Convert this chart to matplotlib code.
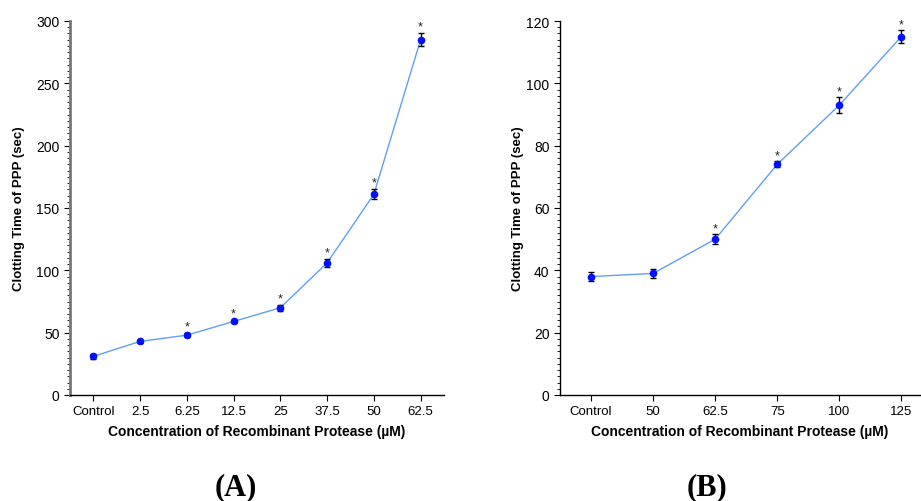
import matplotlib
matplotlib.use("Agg")
import matplotlib.pyplot as plt
from matplotlib.ticker import MultipleLocator

plt.rcParams['font.family'] = ['Liberation Sans', 'DejaVu Sans']

cats_a = ["Control", "2.5", "6.25", "12.5", "25", "37.5", "50", "62.5"]
vals_a = [31, 43, 48, 59, 70, 106, 161, 285]
errs_a = [2, 1, 1.5, 1.5, 2.5, 3, 4, 5]
star_a = [False, False, True, True, True, True, True, True]

cats_b = ["Control", "50", "62.5", "75", "100", "125"]
vals_b = [38, 39, 50, 74, 93, 115]
errs_b = [1.5, 1.5, 1.5, 1, 2.5, 2]
star_b = [False, False, True, True, True, True]

fig = plt.figure(figsize=(9.21, 5.02), dpi=100)
axA = fig.add_axes([70/921, 1-396/502, (444-70)/921, (396-22)/502])
axB = fig.add_axes([560/921, 1-396/502, (920-560)/921, (396-22)/502])

def draw(ax, cats, vals, errs, stars, ymax, major, minor, xmax, star_off, spine_col, spine_w, ylpad):
    x = list(range(len(cats)))
    ax.plot(x, vals, color='#5f9ff5', lw=1, zorder=1)
    ax.errorbar(x, vals, yerr=errs, fmt='none', ecolor='black', elinewidth=1, capsize=2.5, capthick=1, zorder=2)
    ax.plot(x, vals, 'o', color='#0010ff', ms=4.5, zorder=3)
    for xi, v, e, s in zip(x, vals, errs, stars):
        if s:
            ax.text(xi, v + e + star_off, '*', ha='center', va='bottom', fontsize=9, color='#222222')
    ax.set_xlim(-0.5, xmax)
    ax.set_ylim(0, ymax)
    ax.set_xticks(x)
    ax.set_xticklabels(cats, fontsize=9.5)
    ax.yaxis.set_major_locator(MultipleLocator(major))
    ax.yaxis.set_minor_locator(MultipleLocator(minor))
    ax.tick_params(axis='y', labelsize=10, length=4, width=0.8, which='major')
    ax.tick_params(axis='y', length=2, width=0.6, which='minor')
    ax.tick_params(axis='x', labelsize=9.5, length=4, width=0.8)
    ax.spines['top'].set_visible(False)
    ax.spines['right'].set_visible(False)
    ax.spines['left'].set_color(spine_col)
    ax.spines['left'].set_linewidth(spine_w)
    ax.spines['bottom'].set_linewidth(1)
    ax.set_xlabel('Concentration of Recombinant Protease (µM)', fontsize=10, fontweight='bold', labelpad=5)
    ax.set_ylabel('Clotting Time of PPP (sec)', fontsize=9.5, fontweight='bold', labelpad=ylpad)

draw(axA, cats_a, vals_a, errs_a, star_a, 300, 50, 5, 7.5, 0.5, '#777777', 2, 8)
draw(axB, cats_b, vals_b, errs_b, star_b, 120, 20, 2, 5.3, 0.0, 'black', 1, 2)

fig.text(236/921, 1-488/502, '(A)', ha='center', va='center', fontsize=22, fontweight='bold', family='Liberation Serif')
fig.text(707/921, 1-488/502, '(B)', ha='center', va='center', fontsize=22, fontweight='bold', family='Liberation Serif')

fig.savefig('out.png', dpi=100)
